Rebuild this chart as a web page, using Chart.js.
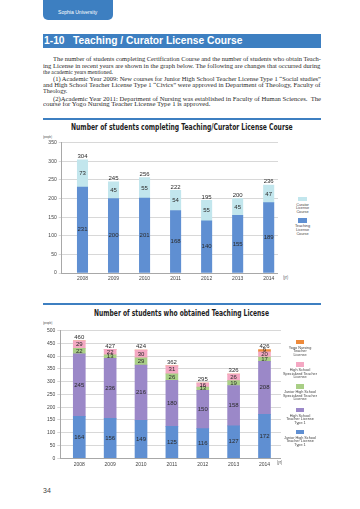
<!DOCTYPE html>
<html>
<head>
<meta charset="utf-8">
<script src="https://cdn.jsdelivr.net/npm/chart.js@4.4.1/dist/chart.umd.min.js"></script>
<style>
  body { margin: 0; width: 360px; height: 509px; background: #fff; position: relative; overflow: hidden;
         font-family: "Liberation Sans", Arial, sans-serif; color: #333; }
  .abs { position: absolute; white-space: nowrap; transform-origin: left center; }
  .blue { background: #3d7fc1; position: absolute; }
  .para { font-family: "Liberation Serif", "Times New Roman", serif; font-size: 6px; line-height: 6px; color: #2a2a2a; }
  .ctitle { font-family: "Liberation Sans Narrow", "DejaVu Sans Condensed", "Liberation Sans", sans-serif;
            font-weight: bold; font-size: 8.5px; line-height: 8.5px; color: #1e1e1e; }
  .small { font-size: 4px; line-height: 4px; color: #444; }
  .leg { position: absolute; width: 40px; text-align: center; font-size: 3.8px; line-height: 3.7px; color: #444; white-space: nowrap; }
  canvas { position: absolute; }
</style>
</head>
<body>
<!-- page header -->
<div class="blue" style="left:42.7px;top:-6px;width:70.6px;height:26px;border-radius:5px;"></div>
<div class="abs" data-w="39.4" style="left:58.3px;top:11px;font-size:4.6px;line-height:4.6px;color:#fff;">Sophia University</div>
<div class="blue" style="left:42.7px;top:34.3px;width:278px;height:13.4px;"></div>
<div class="abs" data-w="198.4" style="left:44.3px;top:36px;font-size:10px;line-height:10px;font-weight:bold;color:#fff;">1-10&nbsp;&nbsp;&nbsp;Teaching / Curator License Course</div>

<div class="abs para" data-w="268" style="left:52.7px;top:56px;">The number of students completing Certification Course and the number of students who obtain Teach-</div>
<div class="abs para" data-w="277.4" style="left:43.3px;top:62.7px;">ing License in recent years are shown in the graph below. The following are changes that occurred during</div>
<div class="abs para" data-w="70" style="left:43.3px;top:69px;">the academic years mentioned.</div>
<div class="abs para" data-w="268" style="left:52.7px;top:76px;">(1) Academic Year 2009: New courses for Junior High School Teacher License Type 1 “Social studies”</div>
<div class="abs para" data-w="277.4" style="left:43.3px;top:82px;">and High School Teacher License Type 1 “Civics” were approved in Department of Theology, Faculty of</div>
<div class="abs para" data-w="24.3" style="left:43.3px;top:88.3px;">Theology.</div>
<div class="abs para" data-w="268" style="left:52.7px;top:95.7px;">(2)Academic Year 2011: Department of Nursing was established in Faculty of Human Sciences.&nbsp; The</div>
<div class="abs para" data-w="167.4" style="left:43.3px;top:101.3px;">course for Yogo Nursing Teacher License Type 1 is approved.</div>

<!-- chart 1 -->
<div class="blue" style="left:43.3px;top:118.3px;width:277.4px;height:1.4px;"></div>
<div class="abs ctitle" data-w="221.6" style="left:70.7px;top:123.3px;">Number of students completing Teaching/Curator License Course</div>
<div class="abs small" data-w="9" style="left:42.7px;top:135.3px;">(people)</div>
<canvas id="courseChart" width="236" height="152" style="left:42px;top:133px;width:236px;height:152px;"></canvas>
<div class="abs small" data-w="5" style="left:282.7px;top:276.3px;font-size:4.5px;">(yr)</div>
<div id="courseLegend"></div>

<!-- chart 2 -->
<div class="blue" style="left:43.3px;top:303.3px;width:277.4px;height:1.4px;"></div>
<div class="abs ctitle" data-w="175" style="left:94px;top:308.8px;">Number of students who obtained Teaching License</div>
<div class="abs small" data-w="9.3" style="left:42.7px;top:320.7px;">(people)</div>
<canvas id="licenseChart" width="241" height="148" style="left:40px;top:322px;width:241px;height:148px;"></canvas>
<div class="abs small" data-w="5" style="left:276.7px;top:461.3px;font-size:4.5px;">(yr)</div>
<div id="licenseLegend"></div>

<div class="abs" style="left:43px;top:486.5px;font-size:7px;line-height:7px;color:#444;">34</div>

<script>
// ---- data ----
const years = [2008, 2009, 2010, 2011, 2012, 2013, 2014];

const teachingCourse = [231, 200, 201, 168, 140, 155, 189];
const curatorCourse = [73, 45, 55, 54, 55, 45, 47];
const courseTotals = [304, 245, 256, 222, 195, 200, 236];

const juniorHighType1 = [164, 156, 149, 125, 116, 127, 172];
const highSchoolType1 = [245, 236, 216, 180, 150, 158, 208];
const juniorHighSpecialized = [22, 13, 29, 26, 13, 19, 17];
const highSchoolSpecialized = [29, 22, 30, 31, 16, 26, 20];
const yogoNursing = [0, 0, 0, 0, 0, 0, 9];
const licenseTotals = [460, 427, 424, 362, 295, 326, 426];

const courseLegend = [
  { color: "#c2e6ed", lines: ["Curator", "License", "Course"] },
  { color: "#5f8fd2", lines: ["Teaching", "License", "Course"] }
];
const licenseLegend = [
  { color: "#ee8a3a", lines: ["Yogo Nursing", "Teacher", "License"] },
  { color: "#f4a8c3", lines: ["High School", "Specialized Teacher", "License"] },
  { color: "#a9cf86", lines: ["Junior  High School", "Specialized Teacher", "License"] },
  { color: "#9b88c8", lines: ["High School", "Teacher License", "Type 1"] },
  { color: "#5f8fd2", lines: ["Junior High School", "Teacher License", "Type 1"] }
];

// squeeze text to the widths measured on the page
document.querySelectorAll("[data-w]").forEach(el => {
  const w = el.getBoundingClientRect().width;
  el.style.transform = "scaleX(" + (parseFloat(el.dataset.w) / w) + ")";
});

function drawLegend(id, items, cx, boxTops, boxW, boxH) {
  const root = document.getElementById(id);
  items.forEach((it, i) => {
    const box = document.createElement("div");
    box.style.cssText = "position:absolute;left:" + (cx - boxW / 2) + "px;top:" + boxTops[i] +
      "px;width:" + boxW + "px;height:" + boxH + "px;background:" + it.color + ";";
    root.appendChild(box);
    const txt = document.createElement("div");
    txt.className = "leg";
    txt.style.left = (cx - 20) + "px";
    txt.style.top = (boxTops[i] + boxH + 2.2) + "px";
    txt.innerHTML = it.lines.join("<br>");
    root.appendChild(txt);
  });
}
drawLegend("courseLegend", courseLegend, 302.5, [196.7, 218.3], 8.4, 4.6);
drawLegend("licenseLegend", licenseLegend, 300, [340, 362.3, 384.3, 408, 430], 8, 4.4);

// ---- charts ----
Chart.defaults.font.family = '"Liberation Sans", Arial, sans-serif';

const valueLabels = {
  id: "valueLabels",
  afterDatasetsDraw(chart, args, opts) {
    const ctx = chart.ctx;
    ctx.save();
    ctx.font = opts.size + 'px "Liberation Sans", Arial, sans-serif';
    ctx.fillStyle = "#2b2b2b";
    ctx.textAlign = "center";
    ctx.textBaseline = "middle";
    chart.data.datasets.forEach((ds, i) => {
      chart.getDatasetMeta(i).data.forEach((bar, j) => {
        const v = ds.data[j].y;
        if (!v) return;
        ctx.fillText(String(v), bar.x, (bar.y + bar.base) / 2);
      });
    });
    const top = chart.getDatasetMeta(chart.data.datasets.length - 1);
    ctx.textBaseline = "bottom";
    top.data.forEach((bar, j) => ctx.fillText(String(opts.totals[j]), bar.x, bar.y - 0.3));
    ctx.restore();
  }
};

function series(label, values, color, thickness) {
  return {
    label: label,
    data: years.map((yr, i) => ({ x: yr, y: values[i] })),
    backgroundColor: color,
    borderWidth: 0,
    barThickness: thickness,
    stack: "all"
  };
}

function makeChart(id, datasets, g) {
  return new Chart(document.getElementById(id), {
    type: "bar",
    data: { datasets: datasets },
    plugins: [valueLabels],
    options: {
      responsive: false,
      animation: false,
      devicePixelRatio: 1,
      layout: { padding: { top: g.padTop, left: 0, right: 0, bottom: 0 } },
      plugins: {
        legend: { display: false },
        tooltip: { enabled: false },
        valueLabels: { totals: g.totals, size: 6 }
      },
      scales: {
        x: {
          type: "linear",
          min: g.xMin,
          max: g.xMax,
          bounds: "data",
          offset: false,
          grid: { display: false, drawTicks: false },
          border: { display: true, color: "#a8a8a8", width: 1 },
          ticks: {
            autoSkip: false, maxRotation: 0,
            padding: 3, color: "#444", font: { size: 5 },
            callback: v => String(v)
          },
          afterBuildTicks: s => { s.ticks = years.map(v => ({ value: v })); },
          afterFit: s => { s.height = g.xHeight; }
        },
        y: {
          stacked: true,
          min: 0,
          max: g.yMax,
          grid: { color: "#d8d8d8", tickLength: 3, lineWidth: 1 },
          border: { color: "#a8a8a8", width: 1 },
          ticks: { stepSize: 50, padding: 2, color: "#444", font: { size: 5 } },
          afterFit: s => { s.width = g.yWidth; }
        }
      }
    }
  });
}

makeChart("courseChart", [
  series("Teaching License Course", teachingCourse, "#5f8fd2", 10.4),
  series("Curator License Course", curatorCourse, "#c2e6ed", 10.4)
], { padTop: 9.7, xHeight: 12, yWidth: 19.7, xMin: 2007.33, xMax: 2014.3, yMax: 350, totals: courseTotals });

makeChart("licenseChart", [
  series("Junior High School Teacher License Type 1", juniorHighType1, "#5f8fd2", 12),
  series("High School Teacher License Type 1", highSchoolType1, "#9b88c8", 12),
  series("Junior High School Specialized Teacher License", juniorHighSpecialized, "#a9cf86", 12),
  series("High School Specialized Teacher License", highSchoolSpecialized, "#f4a8c3", 12),
  series("Yogo Nursing Teacher License", yogoNursing, "#ee8a3a", 12)
], { padTop: 8.7, xHeight: 11.8, yWidth: 20.3, xMin: 2007.385, xMax: 2014.535, yMax: 500, totals: licenseTotals });
</script>
</body>
</html>
